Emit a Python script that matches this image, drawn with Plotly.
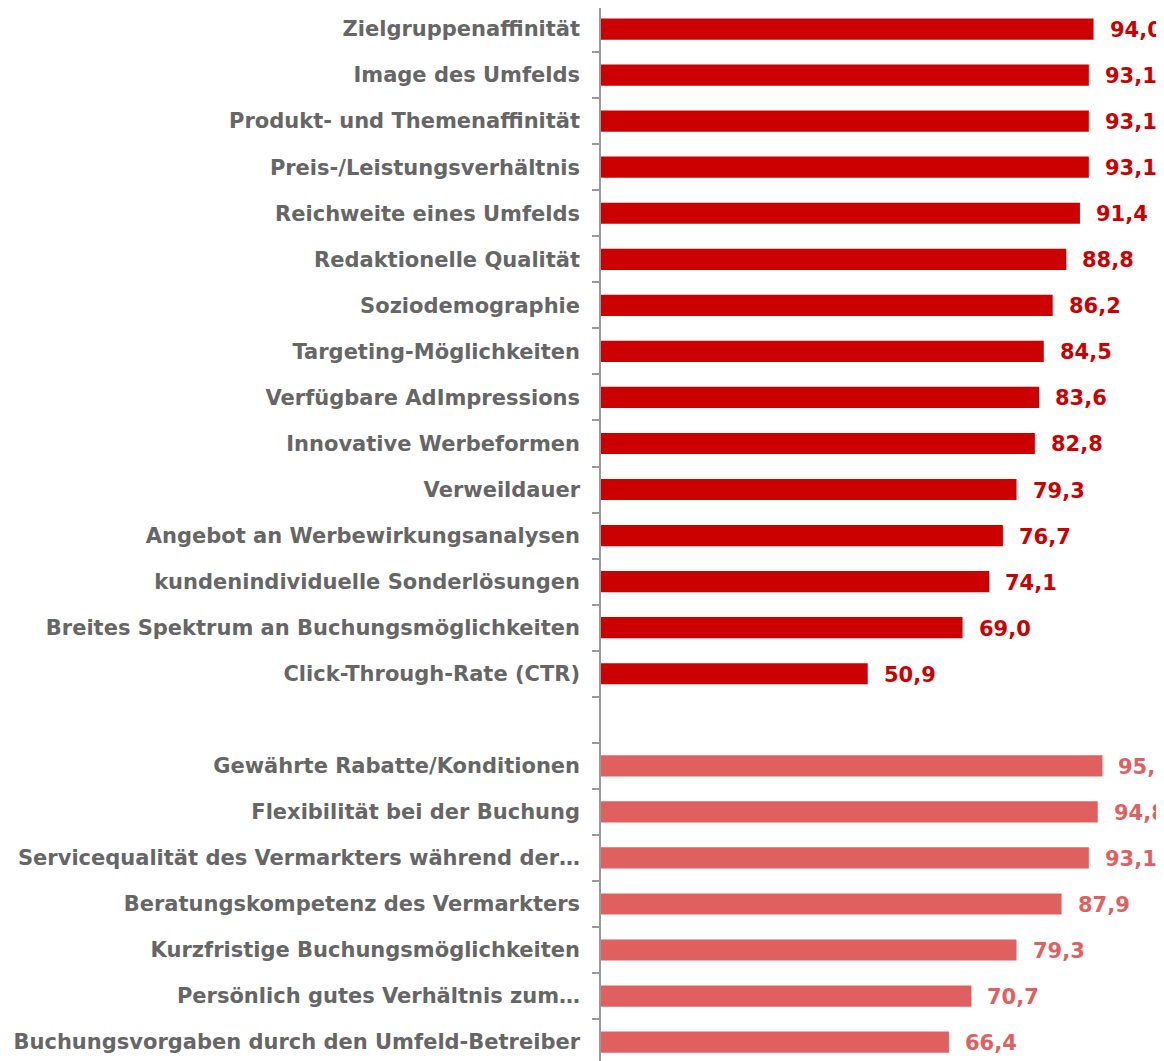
import plotly.graph_objects as go

categories_top = [
    "Zielgruppenaffinität", "Image des Umfelds", "Produkt- und Themenaffinität",
    "Preis-/Leistungsverhältnis", "Reichweite eines Umfelds", "Redaktionelle Qualität",
    "Soziodemographie", "Targeting-Möglichkeiten", "Verfügbare AdImpressions",
    "Innovative Werbeformen", "Verweildauer", "Angebot an Werbewirkungsanalysen",
    "kundenindividuelle Sonderlösungen", "Breites Spektrum an Buchungsmöglichkeiten",
    "Click-Through-Rate (CTR)",
]
values_top = [94.0, 93.1, 93.1, 93.1, 91.4, 88.8, 86.2, 84.5, 83.6, 82.8, 79.3, 76.7, 74.1, 69.0, 50.9]

gap_label = " "

categories_bottom = [
    "Gewährte Rabatte/Konditionen", "Flexibilität bei der Buchung",
    "Servicequalität des Vermarkters während der…", "Beratungskompetenz des Vermarkters",
    "Kurzfristige Buchungsmöglichkeiten", "Persönlich gutes Verhältnis zum…",
    "Buchungsvorgaben durch den Umfeld-Betreiber",
]
values_bottom = [95.7, 94.8, 93.1, 87.9, 79.3, 70.7, 66.4]

color_top = "#CC0000"
color_bottom = "#E06060"
all_cats = categories_top + [gap_label] + categories_bottom

fig = go.Figure()
fig.add_trace(go.Bar(y=categories_top, x=values_top, orientation="h",
                     marker=dict(color=color_top, line=dict(width=0)), width=0.46,
                     hoverinfo="skip"))
fig.add_trace(go.Bar(y=categories_bottom, x=values_bottom, orientation="h",
                     marker=dict(color=color_bottom, line=dict(width=0)), width=0.46,
                     hoverinfo="skip"))

def fmt(v):
    return f"{v:.1f}".replace(".", ",")

annotations = []
for cats, vals, col in [(categories_top, values_top, color_top),
                        (categories_bottom, values_bottom, color_bottom)]:
    for c, v in zip(cats, vals):
        annotations.append(dict(x=v, y=c, text=fmt(v), showarrow=False, xanchor="left",
                                yanchor="middle", xshift=14, yshift=-1,
                                font=dict(family="DejaVu Sans", size=21, color=col,
                                          weight="bold")))

n = len(all_cats)
fig.update_layout(
    width=1156, height=1053,
    margin=dict(l=593, r=39, t=0, b=0),
    paper_bgcolor="white", plot_bgcolor="white",
    showlegend=False,
    annotations=annotations,
    xaxis=dict(range=[0, 100], showgrid=False, zeroline=False, showticklabels=False,
               showline=False, ticks=""),
    yaxis=dict(categoryorder="array", categoryarray=all_cats,
               range=[22.41, -0.457],
               tickson="boundaries", ticks="outside", ticklen=7, tickwidth=1.5,
               tickcolor="#999999", showline=True, linecolor="#999999", linewidth=1.5,
               showgrid=False, zeroline=False, ticklabelstandoff=15,
               tickfont=dict(family="DejaVu Sans", size=21, color="#666666", weight="bold")),
)
fig.write_html("out.html")
